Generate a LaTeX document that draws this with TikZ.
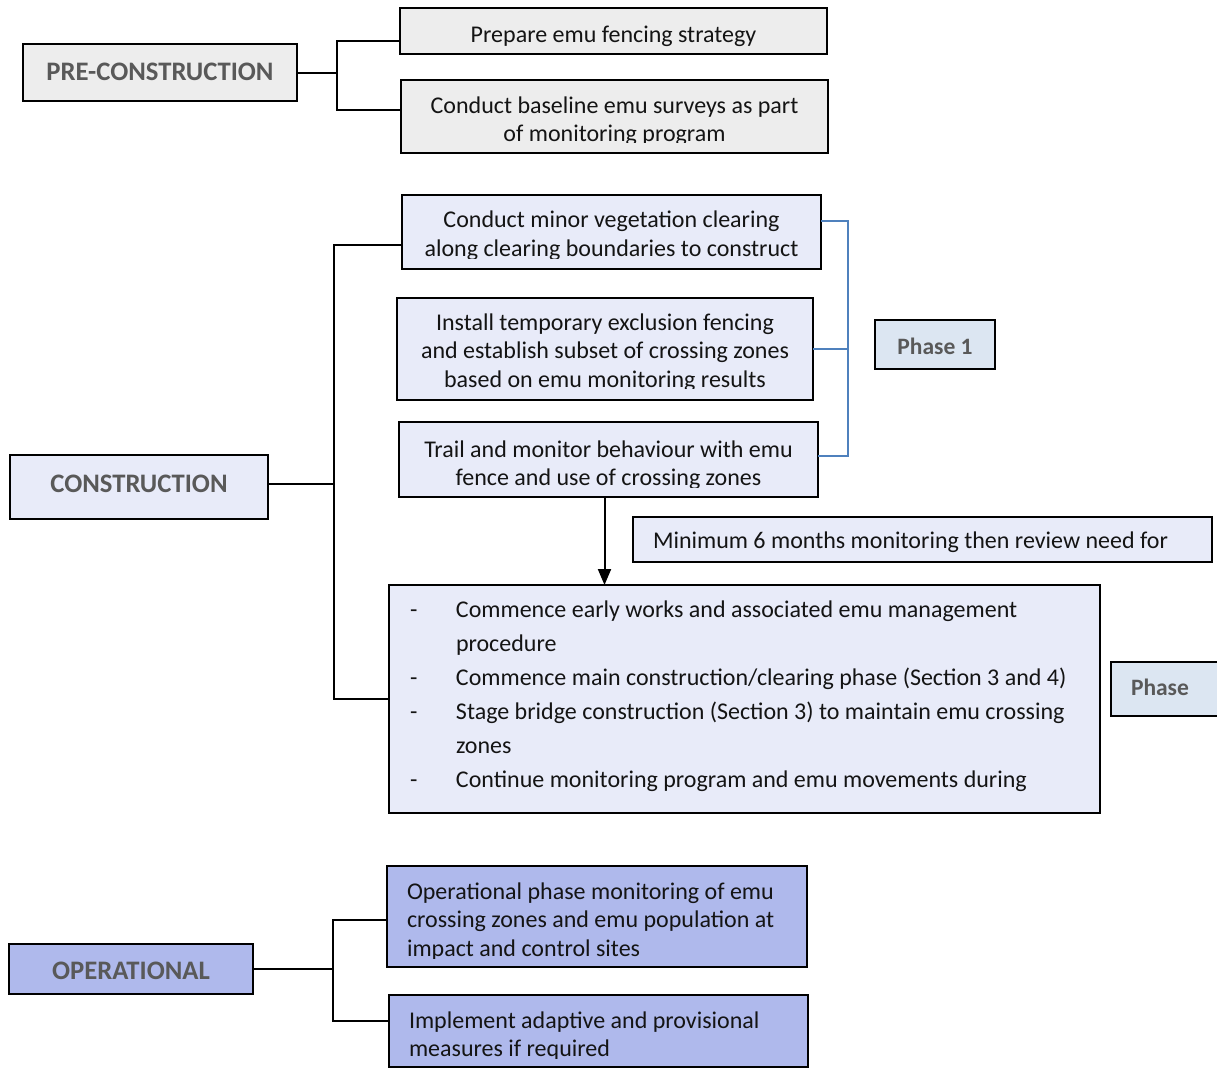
\documentclass[tikz,border=0pt]{standalone}
\usepackage{fontspec}
\setmainfont{Carlito}
\usetikzlibrary{arrows.meta}

\definecolor{pregray}{RGB}{237,237,237}
\definecolor{consfill}{RGB}{232,235,249}
\definecolor{phasefill}{RGB}{220,230,242}
\definecolor{opfill}{RGB}{175,185,236}
\definecolor{headgray}{RGB}{89,89,89}
\definecolor{bodytext}{RGB}{20,20,20}
\definecolor{bracketblue}{RGB}{79,129,189}

\newcommand\bodyfont{\fontsize{24}{28.5}\selectfont}
\newcommand\listfont{\fontsize{24}{34}\selectfont}
\newcommand\headfont{\bfseries\fontsize{26.7}{30}\selectfont}
\newcommand\phasefont{\bfseries\fontsize{23.5}{28}\selectfont}

\tikzset{
  bxclip/.store in=\bxclip,
  bxbase/.store in=\bxbase,
  bxinset/.store in=\bxinset,
  bxalign/.store in=\bxalign,
  bxfont/.store in=\bxfont,
  bxcolor/.store in=\bxcolor,
  bxname/.store in=\bxname,
  bxw/.store in=\bxwidth,
  bxclip=0pt, bxbase=33pt, bxinset=0pt, bxalign=\centering,
  bxfont=\bodyfont, bxcolor=bodytext, bxname=boxtext,
  sz/.style 2 args={minimum width=#1, minimum height=#2, bxw=#1},
  box/.style={draw=black, line width=1.6pt, rectangle, inner sep=0pt,
    outer sep=0pt, anchor=north west},
  % text of a box, set from its top edge and cut off above its bottom edge
  boxtext/.style={path picture={
    \clip ([yshift=\bxclip]path picture bounding box.south west)
      rectangle (path picture bounding box.north east);
    \node[inner sep=0pt, outer sep=0pt, minimum width=0pt, minimum height=0pt,
      draw=none, fill=none, anchor=base west, text=\bxcolor, name=\bxname]
      at ([xshift=\bxinset, yshift=-\bxbase]path picture bounding box.north west)
      {\vtop{\hsize=\dimexpr\bxwidth-\bxinset-\bxinset\relax
        \parindent=0pt \bxfont \bxalign #1\endgraf}};
  }},
  conn/.style={draw=black, line width=2pt},
  bracket/.style={draw=bracketblue, line width=2pt},
}

\begin{document}
\begin{tikzpicture}[x=1pt, y=-1pt]
\useasboundingbox (0,0) rectangle (1217,1068);
\fill[white] (0,0) rectangle (1217,1068);

% ---------- pre-construction ----------
\node[box, fill=pregray, sz={274pt}{57pt}, bxname=preT, bxbase=36pt,
  bxfont=\headfont, bxcolor=headgray, boxtext={PRE-CONSTRUCTION}] (pre) at (23,44) {};
\node[box, fill=pregray, sz={427pt}{46pt}, bxname=prepT, bxbase=34pt, bxclip=7pt,
  boxtext={Prepare emu fencing strategy}] (prep) at (400,8) {};
\node[box, fill=pregray, sz={427pt}{73pt}, bxname=baseT, bxbase=33pt, bxclip=11pt,
  boxtext={Conduct baseline emu surveys as part\\of monitoring program}] (base) at (401,80) {};

% ---------- construction ----------
\node[box, fill=consfill, sz={258pt}{64pt}, bxname=consT, bxbase=37pt,
  bxfont=\headfont, bxcolor=headgray, boxtext={CONSTRUCTION}] (cons) at (10,455) {};
\node[box, fill=consfill, sz={419pt}{74pt}, bxname=vegT, bxbase=32.5pt, bxclip=11pt,
  boxtext={Conduct minor vegetation clearing\\along clearing boundaries to construct}] (veg) at (402,195) {};
\node[box, fill=consfill, sz={416pt}{102pt}, bxname=installT, bxbase=32pt, bxclip=12pt,
  boxtext={Install temporary exclusion fencing\\and establish subset of crossing zones\\based on emu monitoring results}] (install) at (397,298) {};
\node[box, fill=consfill, sz={419pt}{75pt}, bxname=trailT, bxbase=35pt, bxclip=10pt,
  boxtext={Trail and monitor behaviour with emu\\fence and use of crossing zones}] (trail) at (399,422) {};
\node[box, fill=phasefill, sz={120pt}{49pt}, bxname=phaseOneT, bxbase=34pt,
  bxfont=\phasefont, bxcolor=headgray, boxtext={Phase 1}] (phaseone) at (875,320) {};
\node[box, fill=consfill, sz={579pt}{45pt}, bxname=minT, bxbase=31pt, bxinset=20pt,
  bxalign=\raggedright,
  boxtext={Minimum 6 months monitoring then review need for}] (minimum) at (633,517) {};
\node[box, fill=consfill, sz={711pt}{228pt}, bxname=bigT, bxbase=32pt, bxinset=21pt,
  bxalign=\raggedright, bxfont=\listfont,
  boxtext={%
    \hbox{\makebox[46pt][l]{-}Commence early works and associated emu management}%
    \hbox{\hspace*{46pt}procedure}%
    \hbox{\makebox[46pt][l]{-}Commence main construction/clearing phase (Section 3 and 4)}%
    \hbox{\makebox[46pt][l]{-}Stage bridge construction (Section 3) to maintain emu crossing}%
    \hbox{\hspace*{46pt}zones}%
    \hbox{\makebox[46pt][l]{-}Continue monitoring program and emu movements during}}] (big) at (389,585) {};
\node[box, fill=phasefill, sz={130pt}{54pt}, bxname=phaseTwoT, bxbase=33pt, bxinset=20pt,
  bxalign=\raggedright, bxfont=\phasefont, bxcolor=headgray,
  boxtext={Phase}] (phasetwo) at (1111,662) {};

% ---------- operational ----------
\node[box, fill=opfill, sz={244pt}{50pt}, bxname=operT, bxbase=35.5pt,
  bxfont=\headfont, bxcolor=headgray, boxtext={OPERATIONAL}] (oper) at (9,944) {};
\node[box, fill=opfill, sz={420pt}{101pt}, bxname=opOneT, bxbase=33pt, bxclip=9pt,
  bxinset=20pt, bxalign=\raggedright,
  boxtext={Operational phase monitoring of emu\\crossing zones and emu population at\\impact and control sites}] (op1) at (387,866) {};
\node[box, fill=opfill, sz={419pt}{72pt}, bxname=opTwoT, bxbase=33pt, bxclip=9pt,
  bxinset=20pt, bxalign=\raggedright,
  boxtext={Implement adaptive and provisional\\measures if required}] (op2) at (389,995) {};

% ---------- connectors ----------
\coordinate (preSpine) at (337,72);
\coordinate (prepIn) at ([yshift=-10pt]prep.west);
\coordinate (baseIn) at ([yshift=6.5pt]base.west);
\draw[conn] (pre.east) -- (pre.east -| preSpine);
\draw[conn] (prepIn) -| (preSpine) |- (baseIn);

\coordinate (consSpine) at (334,484);
\coordinate (consOut) at ([yshift=3pt]cons.east);
\coordinate (vegIn) at ([yshift=-12.5pt]veg.west);
\draw[conn] (consOut) -- (consOut -| consSpine);
\draw[conn] (vegIn) -| (consSpine) |- (big.west);

\coordinate (phSpine) at (848,349);
\coordinate (vegOut) at ([yshift=11.5pt]veg.east);
\coordinate (trailOut) at ([yshift=4pt]trail.east);
\draw[bracket] (vegOut) -| (phSpine) |- (trailOut);
\draw[bracket] (install.east) -- (install.east -| phSpine);

\coordinate (arrowStart) at ([xshift=-4pt]trail.south);
\draw[conn, -{Triangle[length=16pt, width=13pt]}] (arrowStart) -- (arrowStart |- big.north);

\coordinate (opSpine) at (333,970);
\coordinate (op1In) at ([yshift=-3.5pt]op1.west);
\coordinate (op2In) at ([yshift=10pt]op2.west);
\draw[conn] (oper.east) -- (oper.east -| opSpine);
\draw[conn] (op1In) -| (opSpine) |- (op2In);
\end{tikzpicture}
\end{document}
